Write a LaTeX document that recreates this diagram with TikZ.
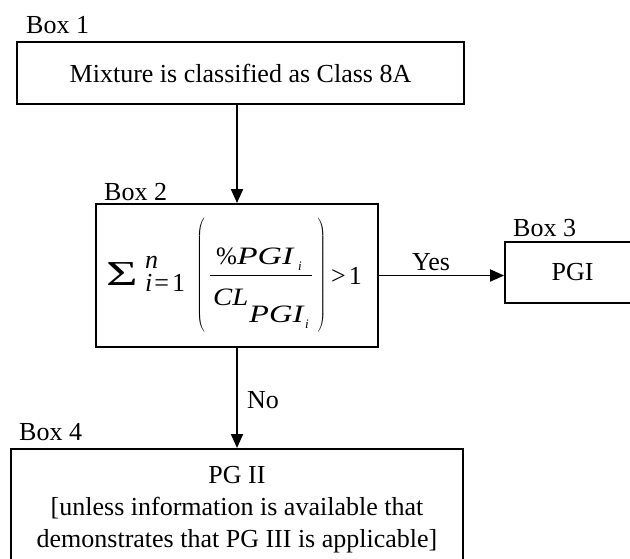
\documentclass[tikz,border=0pt]{standalone}
\usepackage{fontspec}
\setmainfont{Liberation Serif}
\usepackage{graphicx}
\usetikzlibrary{arrows.meta}
\newcommand{\fA}{\fontsize{26}{32}\selectfont}
\newcommand{\fB}{\fontsize{25}{28}\selectfont}
\newcommand{\fC}{\fontsize{13}{15}\selectfont}
\begin{document}
\begin{tikzpicture}[x=1pt,y=-1pt,
  box/.style={draw, line width=1.9pt, inner sep=0pt},
  lab/.style={anchor=base west, inner sep=0pt, font=\fA},
  arr/.style={line width=1.9pt, -{Triangle[length=14pt,width=12pt]}},
  fm/.style={anchor=base west, inner sep=0pt},
  paren/.style={inner sep=0pt, font=\fA},
]
\useasboundingbox (0,0) rectangle (630,558);

% boxes
\node[box, minimum width=447pt, minimum height=62pt, font=\fA] (b1) at (240.5,73) {Mixture is classified as Class 8A};
\node[box, minimum width=282pt, minimum height=143pt] (b2) at (237,275.5) {};
\node[box, minimum width=135pt, minimum height=61pt, font=\fA] (b3) at (572.5,272.5) {PGI};
\node[box, anchor=north, minimum width=452pt, inner ysep=17.8pt, align=center, font=\fA] (b4) at (237,448)
  {PG II\\{[}unless information is available that\\demonstrates that PG III is applicable{]}};

% labels
\node[lab] (l1) at (26,33) {Box 1};
\node[lab] (l2) at (104,200) {Box 2};
\node[lab] (l3) at (513,236) {Box 3};
\node[lab] (l4) at (19,440) {Box 4};

% connectors
\draw[arr] (b2.north |- b1.south) -- (b2.north);
\draw[arr] (b2.east) -- (b2.east -| b3.west);
\draw[arr] (b2.south) -- (b4.north);
\node[lab] (yes) at (412,270) {Yes};
\node[lab] (no) at (247,408) {No};

% formula in box 2
\node[fm, font=\fontsize{35}{40}\selectfont] (sig) at (106,285) {\scalebox{1.55}[1]{Σ}};
\node[fm, font=\fA\itshape] (sn) at (145,268.5) {n};
\node[fm, font=\fA] (si) at (145,291) {\textit{i}\hspace{2pt}=\hspace{3pt}1};
\node[paren] (lp) at (201,275.5) {$\left(\vcenter to 118pt{\vfil}\right.$};
\node[fm, font=\fB] (num) at (216,264) {\%\scalebox{1.35}[1]{\textit{PGI}}};
\node[fm, font=\fC\itshape] (numi) at (298,270) {i};
\draw[line width=1pt] (210,275.7) -- (312,275.7);
\node[fm, font=\fB] (den) at (213,305) {\scalebox{1.15}[1]{\textit{CL}}};
\node[fm, font=\fB] (dsub) at (249,322) {\scalebox{1.3}[1]{\textit{PGI}}};
\node[fm, font=\fC\itshape] (densi) at (305,328) {i};
\node[paren] (rp) at (321.5,275.5) {$\left.\vcenter to 118pt{\vfil}\right)$};
\node[fm, font=\fA] (gt) at (331,284) {>\kern3pt 1};
\end{tikzpicture}
\end{document}
